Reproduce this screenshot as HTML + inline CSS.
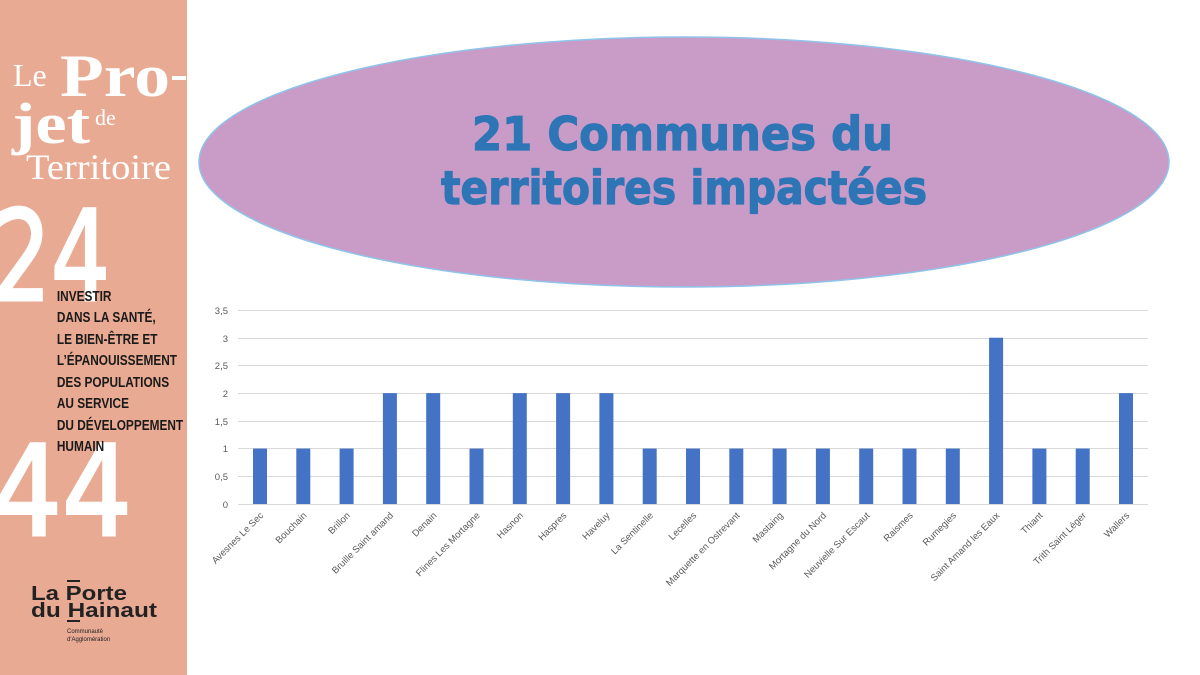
<!DOCTYPE html>
<html><head><meta charset="utf-8"><style>
html,body{margin:0;padding:0;background:#fff;}
svg{display:block;}
</style></head><body>
<svg width="1200" height="675" viewBox="0 0 1200 675" xmlns="http://www.w3.org/2000/svg" font-family="Liberation Sans, sans-serif">
<rect x="0" y="0" width="1200" height="675" fill="#fff"/>
<rect x="0" y="0" width="187" height="675" fill="#e9aa93"/>
<g fill="#fff" font-family="Liberation Serif, serif">
<text x="13" y="86" font-size="32">Le</text>
<text x="60" y="96" font-size="60" font-weight="bold" textLength="110" lengthAdjust="spacingAndGlyphs">Pro</text>
<rect x="172" y="76" width="14" height="4"/>
<text x="12" y="143" font-size="58" font-weight="bold" textLength="78" lengthAdjust="spacingAndGlyphs">jet</text>
<text x="95" y="125" font-size="22">de</text>
<text x="26" y="179" font-size="36" textLength="145" lengthAdjust="spacingAndGlyphs">Territoire</text>
</g>
<g fill="#fff" stroke="#fff" stroke-width="3" font-family="DejaVu Sans, sans-serif">
<text x="-8" y="300" font-size="125" textLength="118" lengthAdjust="spacingAndGlyphs">24</text>
<text x="-8" y="535" font-size="125" textLength="140" lengthAdjust="spacingAndGlyphs">44</text>
</g>
<g fill="#1a1a1a" font-size="15" font-weight="bold" transform="scale(0.79,1)">
<text x="72" y="301">INVESTIR</text>
<text x="72" y="322">DANS LA SANTÉ,</text>
<text x="72" y="344">LE BIEN-ÊTRE ET</text>
<text x="72" y="365">L’ÉPANOUISSEMENT</text>
<text x="72" y="387">DES POPULATIONS</text>
<text x="72" y="408">AU SERVICE</text>
<text x="72" y="430">DU DÉVELOPPEMENT</text>
<text x="72" y="451">HUMAIN</text>
</g>
<g fill="#222" font-weight="bold">
<text x="31" y="600" font-size="20" textLength="96" lengthAdjust="spacingAndGlyphs">La Porte</text>
<text x="31" y="617" font-size="20" textLength="126" lengthAdjust="spacingAndGlyphs">du Hainaut</text>
<rect x="67" y="580" width="13" height="2"/>
<rect x="67" y="620" width="13" height="2"/>
<text x="67" y="633" font-size="6" font-weight="normal">Communauté</text>
<text x="67" y="641" font-size="6" font-weight="normal">d'Agglomération</text>
</g>
<ellipse cx="684" cy="162" rx="485" ry="125" fill="#c99cc8" stroke="#8fc3ea" stroke-width="1.5"/>
<g fill="#2e75b6" stroke="#2e75b6" stroke-width="1.2" font-weight="bold" font-size="46" font-family="DejaVu Sans, Liberation Sans, sans-serif">
<text x="472" y="150" textLength="421" lengthAdjust="spacingAndGlyphs">21 Communes du</text>
<text x="441" y="204" textLength="486" lengthAdjust="spacingAndGlyphs">territoires impactées</text>
</g>
<g stroke="#d9d9d9" stroke-width="1">
<line x1="238" x2="1148" y1="310.5" y2="310.5"/>
<line x1="238" x2="1148" y1="338.5" y2="338.5"/>
<line x1="238" x2="1148" y1="365.5" y2="365.5"/>
<line x1="238" x2="1148" y1="393.5" y2="393.5"/>
<line x1="238" x2="1148" y1="421.5" y2="421.5"/>
<line x1="238" x2="1148" y1="448.5" y2="448.5"/>
<line x1="238" x2="1148" y1="476.5" y2="476.5"/>
<line x1="238" x2="1148" y1="504.5" y2="504.5"/>
</g>
<g fill="#595959" font-size="9.5" text-anchor="end">
<text x="228" y="314">3,5</text>
<text x="228" y="342">3</text>
<text x="228" y="369">2,5</text>
<text x="228" y="397">2</text>
<text x="228" y="425">1,5</text>
<text x="228" y="452">1</text>
<text x="228" y="480">0,5</text>
<text x="228" y="508">0</text>
</g>
<g fill="#4472c4" id="bars"></g>
<g fill="#595959" font-size="9.5" text-anchor="end" id="labels"></g>
<script>
var names=["Avesnes Le Sec","Bouchain","Brillon","Bruille Saint amand","Denain","Flines Les Mortagne","Hasnon","Haspres","Haveluy","La Sentinelle","Lecelles","Marquette en Ostrevant","Mastaing","Mortagne du Nord","Neuvielle Sur Escaut","Raismes","Rumegies","Saint Amand les Eaux","Thiant","Trith Saint Léger","Wallers"];
var vals=[1,1,1,2,2,1,2,2,2,1,1,1,1,1,1,1,1,3,1,1,2];
var b=document.getElementById("bars"),l=document.getElementById("labels"),ns="http://www.w3.org/2000/svg";
for(var i=0;i<21;i++){var cx=260+i*43.3,h=vals[i]*55.43;
var r=document.createElementNS(ns,"rect");r.setAttribute("x",cx-7);r.setAttribute("y",504-h);r.setAttribute("width",14);r.setAttribute("height",h);b.appendChild(r);
var t=document.createElementNS(ns,"text");t.setAttribute("transform","translate("+(cx+4)+",516) rotate(-45)");t.textContent=names[i];l.appendChild(t);}
</script>
</svg>
</body></html>
